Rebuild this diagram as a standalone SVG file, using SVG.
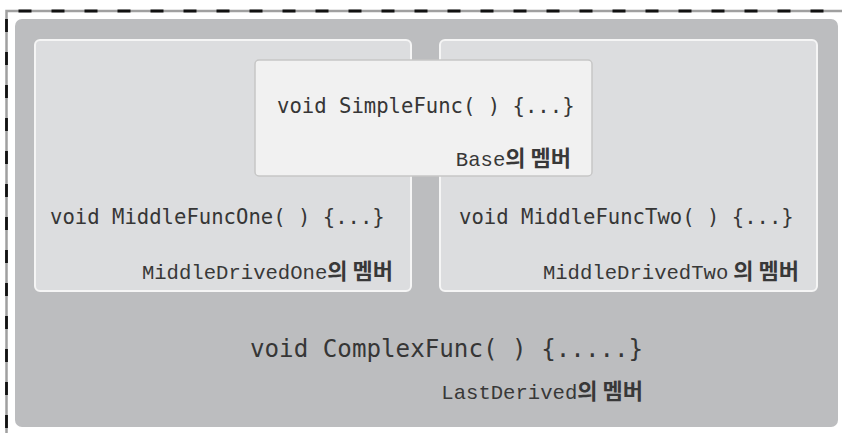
<svg xmlns="http://www.w3.org/2000/svg" width="842" height="433" viewBox="0 0 842 433">
  <style>
    .code { font-family: "DejaVu Sans Mono", "Liberation Mono", monospace; fill: #363636; }
    .lbl { font-family: "Liberation Mono", "DejaVu Sans Mono", "Noto Sans CJK KR", monospace; font-size: 20.6px; fill: #383838; text-anchor: end; }
    .ko { font-family: "Noto Sans CJK KR", sans-serif; font-weight: bold; font-size: 22px; }
    .panel { fill: #dcdddf; stroke: #f5f5f5; stroke-width: 2; }
  </style>
  <rect width="842" height="433" fill="#ffffff"/>
  <g id="frame">
    <path d="M6.5,433 V11 H842" fill="none" stroke="#a0a0a0" stroke-width="2.5"/>
    <path d="M6.5,433 V11 H842" fill="none" stroke="#111111" stroke-width="2.8" stroke-dasharray="13 20" stroke-dashoffset="-5"/>
  </g>
  <g id="LastDerived">
    <rect x="15" y="19" width="823" height="408" rx="7" fill="#bcbdbf"/>
    <text class="code" x="250" y="357" font-size="24.2">void ComplexFunc( ) {.....}</text>
    <text class="lbl" x="643" y="399">LastDerived<tspan class="ko">의 멤버</tspan></text>
  </g>
  <g id="MiddleDrivedOne">
    <rect class="panel" x="35" y="40" width="376" height="251" rx="5"/>
    <text class="code" x="50" y="224" font-size="20.6">void MiddleFuncOne( ) {...}</text>
    <text class="lbl" x="393" y="279">MiddleDrivedOne<tspan class="ko">의 멤버</tspan></text>
  </g>
  <g id="MiddleDrivedTwo">
    <rect class="panel" x="440" y="40" width="377" height="251" rx="5"/>
    <text class="code" x="459" y="224" font-size="20.6">void MiddleFuncTwo( ) {...}</text>
    <text class="lbl" x="799" y="279">MiddleDrivedTwo<tspan class="ko"> 의 멤버</tspan></text>
  </g>
  <g id="Base">
    <rect x="255" y="60" width="337" height="116" rx="4" fill="#f1f1f1" stroke="#c6c6c6" stroke-width="1.5"/>
    <text class="code" x="277" y="113" font-size="20.6">void SimpleFunc( ) {...}</text>
    <text class="lbl" x="571" y="166">Base<tspan class="ko">의 멤버</tspan></text>
  </g>
  <g id="connectors"/>
</svg>
